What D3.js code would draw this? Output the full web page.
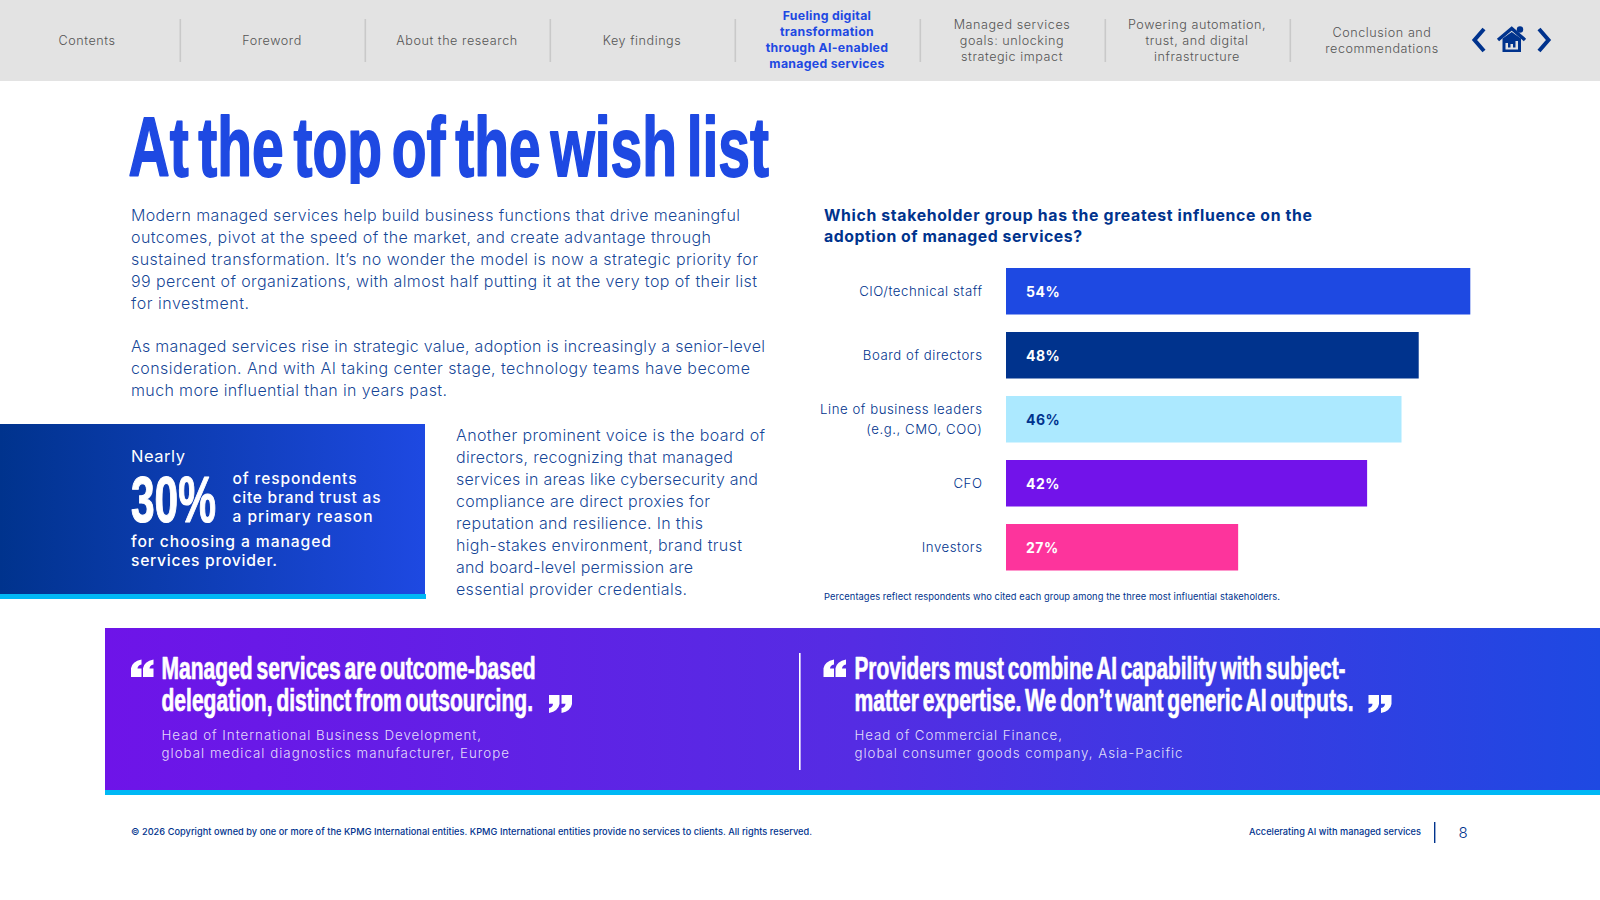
<!DOCTYPE html>
<html><head><meta charset="utf-8">
<script src="https://cdn.jsdelivr.net/npm/d3@7"></script>
<style>
html,body{margin:0;padding:0;background:#fff;overflow:hidden}
svg{display:block}
</style></head><body>
<svg id="c" width="1600" height="900"></svg>
<script>
const categories = ["CIO/technical staff","Board of directors","Line of business leaders\n(e.g., CMO, COO)","CFO","Investors"];
const values = [54,48,46,42,27];
const barColors = ["#1e49e2","#00338d","#ace9ff","#7213ea","#fd349c"];
const valueLabelColors = ["#ffffff","#ffffff","#00338d","#ffffff","#ffffff"];
const navLabels = [["Contents"],["Foreword"],["About the research"],["Key findings"],
 ["Fueling digital","transformation","through AI-enabled","managed services"],
 ["Managed services","goals: unlocking","strategic impact"],
 ["Powering automation,","trust, and digital","infrastructure"],
 ["Conclusion and","recommendations"]];
const chartTitle = ["Which stakeholder group has the greatest influence on the","adoption of managed services?"];
const chartNote = "Percentages reflect respondents who cited each group among the three most influential stakeholders.";

const svg = d3.select("#c");
const BODY = "Inter, Roboto, sans-serif";
const NARROW = "'Liberation Sans Narrow', 'Liberation Sans', sans-serif";
const BLUE="#1e49e2", NAVY="#00338d", CYAN="#00b8f5";

function t(x,y,s,o={}){
  const e = svg.append("text").attr("x",x).attr("y",y).text(s)
    .attr("font-family",o.font||BODY).attr("font-size",o.size||16)
    .attr("font-weight",o.weight||400).attr("fill",o.fill||NAVY)
    .attr("text-anchor",o.anchor||"start");
  if(o.w){e.attr("textLength",o.w).attr("lengthAdjust",o.glyphs?"spacingAndGlyphs":"spacing");}
  if(o.op) e.attr("fill-opacity",o.op);
  if(o.stroke) e.attr("stroke",o.fill||NAVY).attr("stroke-width",o.stroke).attr("stroke-linejoin","round");
  if(o.ws) e.attr("word-spacing",o.ws);
  if(o.ls) e.attr("letter-spacing",o.ls);
  return e;
}
const defs = svg.append("defs");
function grad(id,stops){
  const g=defs.append("linearGradient").attr("id",id);
  stops.forEach(([o,c])=>g.append("stop").attr("offset",o).attr("stop-color",c));
}
grad("gBox",[[0,NAVY],[1,BLUE]]);
grad("gBan",[[0,"#6e14e8"],[0.5,"#552ce3"],[1,BLUE]]);
defs.append("clipPath").attr("id","titleClip").append("rect").attr("x",100).attr("y",100).attr("width",700).attr("height",84);

/* nav bar */
svg.append("rect").attr("width",1600).attr("height",81).attr("fill","#e3e3e3");
const navX = d3.scalePoint().domain(d3.range(8)).range([87,1382]);
navLabels.forEach((lines,i)=>{
  const active = i===4;
  const y0 = (active?44:45) - (lines.length-1)*8;
  lines.forEach((l,k)=>{
    t(navX(i),y0+k*16,l,{size:active?12.3:12.6,anchor:"middle",weight:active?700:300,
      fill:active?BLUE:"#555555",ls:active?0.3:0.55});
  });
  if(i<7) svg.append("rect").attr("x",navX(i)+92.5).attr("y",19).attr("width",1.6).attr("height",43).attr("fill","#c9c9c9");
});
const ic = svg.append("g").attr("fill","none").attr("stroke",NAVY).attr("stroke-width",4);
ic.append("path").attr("d","M1484 29L1474.5 40L1484 51");
ic.append("path").attr("d","M1539 29L1548.5 40L1539 51");
ic.append("path").attr("stroke-width",3.4).attr("d","M1498 40L1511.7 28.5L1525 40");
const h = svg.append("g").attr("fill",NAVY);
h.append("circle").attr("cx",1520).attr("cy",29.5).attr("r",3.2);
h.append("path").attr("fill-rule","evenodd").attr("d","M1502.5 38.5L1511.7 32L1521 38.5V52H1502.5ZM1505.5 43V49.5H1518V41H1515.5V47.5H1513V44H1510.5V47.5H1508V43Z");

/* title */
t(128.5,175.5,"At the top of the wish list",{font:NARROW,size:84,weight:700,fill:BLUE,w:640.5,glyphs:true,stroke:1.8,ws:-9})
  .attr("clip-path","url(#titleClip)");

/* body text */
const BT={size:16,weight:300,op:0.92};
const p1Y=[221,243,265,287,309.4];
[["Modern managed services help build business functions that drive meaningful",609],
 ["outcomes, pivot at the speed of the market, and create advantage through",580],
 ["sustained transformation. It\u2019s no wonder the model is now a strategic priority for",627],
 ["99 percent of organizations, with almost half putting it at the very top of their list",626],
 ["for investment.",118]].forEach((d,i)=>t(131,p1Y[i],d[0],{...BT,w:d[1]}));
[["As managed services rise in strategic value, adoption is increasingly a senior-level",634],
 ["consideration. And with AI taking center stage, technology teams have become",619],
 ["much more influential than in years past.",316]].forEach((d,i)=>t(131,352+i*22,d[0],{...BT,w:d[1]}));
[["Another prominent voice is the board of",309],["directors, recognizing that managed",277],
 ["services in areas like cybersecurity and",302],["compliance are direct proxies for",254],
 ["reputation and resilience. In this",247],["high-stakes environment, brand trust",286],
 ["and board-level permission are",237],["essential provider credentials.",231]]
 .forEach((d,i)=>t(456,440.7+i*22.03,d[0],{...BT,w:d[1]}));

/* callout */
svg.append("rect").attr("x",0).attr("y",424).attr("width",425).attr("height",171).attr("fill","url(#gBox)");
svg.append("rect").attr("x",0).attr("y",594).attr("width",426).attr("height",5).attr("fill",CYAN);
const W={fill:"#fff"};
t(131,461.5,"Nearly",{...W,size:16.5,weight:400,w:54});
const big = t(0,0,"30%",{...W,font:NARROW,size:64,weight:700,stroke:1.2});
big.attr("transform",`translate(131,521.5) scale(${85/big.node().getComputedTextLength()},1)`);
t(232.5,484,"of respondents",{...W,size:15.5,weight:500,w:124});
t(232.5,503,"cite brand trust as",{...W,size:15.5,weight:500,w:148});
t(232.5,522,"a primary reason",{...W,size:15.5,weight:500,w:140});
t(131,546.5,"for choosing a managed",{...W,size:15.7,weight:500,w:200});
t(131,565.5,"services provider.",{...W,size:15.7,weight:500,w:146});

/* chart */
t(824,220.5,chartTitle[0],{size:15.8,weight:700,w:488});
t(824,241.5,chartTitle[1],{size:15.8,weight:700,w:258});
const x = d3.scaleLinear().domain([0,54]).range([1006,1470.3]);
const y = d3.scaleBand().domain(categories).range([268,570.5]).paddingInner(17.5/64);
const chart = svg.append("g");
chart.selectAll("rect.bar").data(categories).join("rect").attr("class","bar")
  .attr("x",x(0)).attr("y",d=>y(d)).attr("height",y.bandwidth())
  .attr("width",(d,i)=>x(values[i])-x(0)).attr("fill",(d,i)=>barColors[i]);
chart.selectAll("text.val").data(categories).join("text").attr("class","val")
  .attr("x",x(0)+20).attr("y",d=>y(d)+y.bandwidth()/2+5.4).text((d,i)=>values[i]+"%")
  .attr("font-family",BODY).attr("font-size",14).attr("font-weight",700)
  .attr("fill",(d,i)=>valueLabelColors[i]).attr("letter-spacing",0.5);
const axis = svg.append("g").attr("transform","translate(1006,0)")
  .call(d3.axisLeft(y).tickSize(0).tickPadding(23.5));
axis.select(".domain").remove();
axis.selectAll(".tick text").each(function(d){
  const el=d3.select(this), parts=d.split("\n");
  el.text(null).attr("font-family",BODY).attr("font-size",13.2).attr("font-weight",300)
    .attr("fill",NAVY).attr("letter-spacing",0.55).attr("dy",null).attr("text-anchor","end");
  parts.forEach((p,k)=>el.append("tspan").attr("x",-23.5)
    .attr("y",(k-(parts.length-1)/2)*20+4.8).text(p));
});
t(824,600,chartNote,{size:9.3,weight:400,w:456});

/* banner */
svg.append("rect").attr("x",105).attr("y",628).attr("width",1495).attr("height",162).attr("fill","url(#gBan)");
svg.append("rect").attr("x",105).attr("y",790).attr("width",1495).attr("height",5).attr("fill",CYAN);
svg.append("rect").attr("x",799).attr("y",653).attr("width",1.6).attr("height",117).attr("fill","#fff");
const Q={fill:"#fff",font:NARROW,size:31,weight:700,glyphs:true,stroke:0.7,ws:-3};
const S={fill:"#fff",size:13.3,weight:300,op:0.85};
function openMark(px,py,w,h){
  return `M${px} ${py+h}V${py+h*.5}Q${px+w*.1} ${py+h*.12} ${px+w} ${py}V${py+h*.28}Q${px+w*.62} ${py+h*.33} ${px+w*.62} ${py+h*.52}H${px+w}V${py+h}Z`;
}
function closeMark(px,py,w,h){
  return `M${px+w} ${py}V${py+h*.5}Q${px+w*.9} ${py+h*.88} ${px} ${py+h}V${py+h*.72}Q${px+w*.38} ${py+h*.67} ${px+w*.38} ${py+h*.48}H${px}V${py}Z`;
}
const marks = svg.append("g").attr("fill","#fff");
[[131,659.5],[143,659.5],[823.5,659.5],[835.5,659.5]].forEach(([a,b])=>marks.append("path").attr("d",openMark(a,b,10.5,17.5)));
[[549,695],[561.5,695],[1368.5,695],[1381,695]].forEach(([a,b])=>marks.append("path").attr("d",closeMark(a,b,10.5,18)));
t(161.5,679,"Managed services are outcome-based",{...Q,w:374});
t(161.5,711,"delegation, distinct from outsourcing.",{...Q,w:371.5});
t(161.5,740,"Head of International Business Development,",{...S,w:319.5});
t(161.5,758,"global medical diagnostics manufacturer, Europe",{...S,w:347.5});
t(854.5,679,"Providers must combine AI capability with subject-",{...Q,w:491});
t(854.5,711,"matter expertise. We don\u2019t want generic AI outputs.",{...Q,w:499});
t(854.5,740,"Head of Commercial Finance,",{...S,w:207.5});
t(854.5,758,"global consumer goods company, Asia-Pacific",{...S,w:328});

/* footer */
t(131,835,"\u00a9 2026 Copyright owned by one or more of the KPMG International entities. KPMG International entities provide no services to clients. All rights reserved.",{size:9.2,weight:500,w:681});
t(1249,835,"Accelerating AI with managed services",{size:9.2,weight:500,w:172});
svg.append("rect").attr("x",1434).attr("y",822).attr("width",1.4).attr("height",21).attr("fill",NAVY);
t(1463,838,"8",{size:15,weight:300,anchor:"middle"});
</script>
</body></html>
